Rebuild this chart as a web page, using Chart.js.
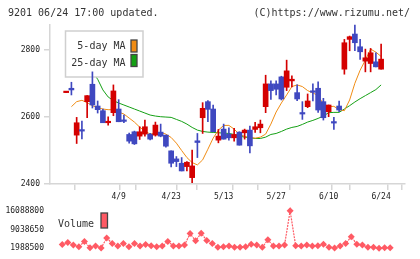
<!DOCTYPE html>
<html>
<head>
<meta charset="utf-8">
<script src="https://cdn.jsdelivr.net/npm/chart.js@4.4.1/dist/chart.umd.min.js"></script>
<style>
  html, body { margin: 0; padding: 0; background: #fff; }
  body { width: 420px; height: 259px; position: relative; overflow: hidden; }
  .head { position: absolute; top: 7px; font: 10px 'DejaVu Sans Mono', monospace; line-height: 12px; color: #333; white-space: pre; }
  canvas { position: absolute; left: 0; }
  #priceChart { top: 0; }
  #volChart { top: 200px; }
</style>
</head>
<body>
<canvas id="priceChart" width="420" height="205"></canvas>
<canvas id="volChart" width="420" height="59"></canvas>
<div class="head" style="left:8px">9201 06/24 17:00 updated.</div>
<div class="head" style="right:10px">(C)https://www.rizumu.net/</div>
<script>
const dates = ['3/26','3/27','3/28','3/29','4/1','4/2','4/3','4/4','4/5','4/8',
  '4/9','4/10','4/11','4/12','4/15','4/16','4/17','4/18','4/19','4/22',
  '4/23','4/24','4/25','4/26','4/30','5/1','5/2','5/7','5/8','5/9',
  '5/13','5/14','5/15','5/16','5/17','5/20','5/21','5/22','5/23','5/24',
  '5/27','5/28','5/29','5/30','5/31','6/3','6/4','6/5','6/6','6/7',
  '6/10','6/11','6/12','6/13','6/14','6/17','6/18','6/19','6/20','6/21','6/24'];

const opens = [2673, 2686, 2546, 2561, 2646, 2698, 2633, 2619, 2583, 2613,
  2624, 2589, 2548, 2556, 2543, 2549, 2549, 2546, 2555, 2546,
  2499, 2475, 2462, 2452, 2419, 2529, 2598, 2646, 2624, 2531,
  2564, 2549, 2538, 2555, 2553, 2561, 2563, 2568, 2631, 2699,
  2699, 2720, 2689, 2708, 2673, 2612, 2631, 2677, 2686, 2646,
  2616, 2585, 2633, 2743, 2832, 2848, 2810, 2767, 2760, 2765, 2743];
const highs = [2675, 2704, 2599, 2588, 2664, 2735, 2648, 2624, 2601, 2696,
  2652, 2606, 2552, 2558, 2571, 2591, 2551, 2585, 2579, 2546,
  2499, 2482, 2479, 2467, 2501, 2551, 2643, 2649, 2636, 2563,
  2579, 2568, 2566, 2556, 2564, 2573, 2584, 2591, 2725, 2708,
  2708, 2722, 2770, 2723, 2696, 2646, 2669, 2699, 2705, 2656,
  2636, 2599, 2648, 2832, 2842, 2875, 2832, 2803, 2805, 2792, 2818];
const lows = [2673, 2666, 2521, 2535, 2598, 2627, 2612, 2583, 2576, 2604,
  2586, 2583, 2522, 2518, 2533, 2543, 2532, 2543, 2541, 2510,
  2451, 2452, 2439, 2439, 2404, 2479, 2551, 2586, 2556, 2523,
  2534, 2531, 2528, 2516, 2534, 2493, 2554, 2553, 2613, 2653,
  2666, 2651, 2679, 2690, 2649, 2593, 2628, 2648, 2614, 2591,
  2601, 2563, 2616, 2728, 2798, 2798, 2772, 2735, 2735, 2750, 2743];
const closes = [2675, 2681, 2583, 2558, 2664, 2636, 2622, 2583, 2585, 2678,
  2586, 2587, 2528, 2520, 2556, 2571, 2534, 2576, 2543, 2513,
  2462, 2467, 2439, 2465, 2454, 2524, 2626, 2623, 2556, 2543,
  2534, 2538, 2548, 2516, 2561, 2514, 2571, 2579, 2699, 2679,
  2683, 2654, 2738, 2713, 2654, 2609, 2648, 2674, 2621, 2598,
  2636, 2582, 2621, 2822, 2840, 2822, 2795, 2777, 2792, 2750, 2773];

const ma5 = [null, 2631, 2646, 2650, 2643, 2634, 2628, 2624, 2622, 2622, 2615,
  2609, 2597, 2585, 2570, 2558, 2549, 2552, 2554, 2549, 2539,
  2522, 2500, 2479, 2464, 2457, 2472, 2504, 2537, 2561, 2575,
  2575, 2564, 2548, 2542, 2539, 2537, 2540, 2549, 2579, 2615,
  2642, 2666, 2691, 2696, 2691, 2679, 2672, 2664, 2639, 2631,
  2632, 2622, 2619, 2651, 2701, 2740, 2770, 2803, 2794, 2781];
const ma25 = [null, 2818, 2806, 2782, 2758, 2734, 2713, 2681, 2660, 2649, 2642,
  2636, 2630, 2624, 2618, 2612, 2606, 2603, 2601, 2600, 2599,
  2593, 2587, 2579, 2569, 2561, 2557, 2555, 2554, 2553, 2552,
  2551, 2548, 2543, 2540, 2538, 2536, 2536, 2540, 2548, 2551,
  2557, 2564, 2569, 2572, 2578, 2585, 2590, 2596, 2603, 2613,
  2614, 2614, 2624, 2634, 2645, 2655, 2664, 2673, 2682, 2696];

const volume = [null, 3400000, 4100000, 3150000, 2550000, 4560000, 2200000, 2800000, 2050000, 5860000, 3750000,
  2800000, 3750000, 2550000, 3750000, 2800000, 3400000, 2900000, 2550000, 2800000, 4560000,
  2800000, 2800000, 3150000, 7490000, 4810000, 7660000, 4910000, 3750000, 2340000, 2550000,
  2800000, 2340000, 2340000, 2550000, 3500000, 3150000, 2340000, 5160000, 2800000, 2800000,
  3150000, 16088800, 2900000, 2800000, 3150000, 2800000, 2900000, 3500000, 2340000, 2050000,
  2800000, 3750000, 6320000, 3500000, 3150000, 2340000, 2340000, 1988500, 2200000, 2200000];

const priceTicks = [2400, 2600, 2800];
const volumeTicks = [1988500, 9038650, 16088800];
const dateTicks = ['4/9', '4/23', '5/13', '5/27', '6/10', '6/24'];

const UP = '#d40000';
const DOWN = '#3f48c0';
const MONO = 'DejaVu Sans Mono';
const AXIS = '#d6d6d6';
const xMin = -1.2, xMax = 62.67;

const labelIdx = dateTicks.map(d => dates.indexOf(d));
const candleColor = opens.map((o, i) => closes[i] >= o ? UP : DOWN);
// tick marks on the time axis are evenly spread, not tied to dates
const markTicks = [];
for (let k = 0; k <= 11; k++) markTicks.push(xMin + k * (xMax - xMin) / 11);

const maLegend = {
  id: 'maLegend',
  afterDatasetDraw(chart, args) {
    if (chart.data.datasets[args.index].label !== '5-day MA') return;
    const ctx = chart.ctx;
    ctx.save();
    ctx.fillStyle = '#fff';
    ctx.fillRect(65.5, 31, 77.5, 46);
    ctx.strokeStyle = '#cfcfcf';
    ctx.lineWidth = 1.5;
    ctx.strokeRect(65.5, 31, 77.5, 46);
    ctx.font = '10px "' + MONO + '"';
    ctx.textAlign = 'right';
    ctx.textBaseline = 'alphabetic';
    const lines = chart.data.datasets.filter(d => d.type === 'line');
    lines.forEach((d, k) => {
      ctx.fillStyle = '#333';
      ctx.fillText(d.label, 125.5, 49 + k * 17);
      ctx.fillStyle = d.borderColor;
      ctx.fillRect(131, 40 + k * 14.5, 6, 12);
      ctx.strokeStyle = '#444';
      ctx.lineWidth = 1.3;
      ctx.strokeRect(131, 40 + k * 14.5, 6, 12);
    });
    ctx.restore();
  }
};

new Chart(document.getElementById('priceChart'), {
  type: 'bar',
  data: {
    datasets: [{
      type: 'line',
      label: '5-day MA',
      data: ma5.map((v, i) => ({x: i, y: v})),
      borderColor: '#f08c14',
      borderWidth: 1,
      pointRadius: 0,
      order: 3
    }, {
      type: 'line',
      label: '25-day MA',
      data: ma25.map((v, i) => ({x: i, y: v})),
      borderColor: '#14a014',
      borderWidth: 1,
      pointRadius: 0,
      order: 4
    }, {
      label: 'wick',
      data: highs.map((h, i) => ({x: i, y: [lows[i], h]})),
      backgroundColor: candleColor,
      barThickness: 1,
      minBarLength: 1,
      grouped: false,
      clip: 6,
      order: 2
    }, {
      label: 'body',
      data: opens.map((o, i) => ({x: i, y: [o, closes[i]]})),
      backgroundColor: candleColor,
      barThickness: 5,
      minBarLength: 1.5,
      grouped: false,
      clip: 6,
      order: 1
    }]
  },
  options: {
    responsive: false,
    animation: false,
    layout: { padding: { left: 0, right: 15, top: 25, bottom: 0 } },
    plugins: { legend: { display: false }, tooltip: { enabled: false } },
    scales: {
      x: {
        type: 'linear',
        min: xMin,
        max: xMax,
        afterBuildTicks: s => {
          s.ticks = markTicks.concat(labelIdx).sort((a, b) => a - b).map(v => ({value: v}));
        },
        afterFit: s => { s.height = 21; },
        grid: {
          drawOnChartArea: false,
          tickLength: 6,
          lineWidth: 1.5,
          color: c => (c.tick && labelIdx.includes(c.tick.value)) ? 'rgba(0,0,0,0)' : AXIS
        },
        border: { color: AXIS, width: 1.5 },
        ticks: {
          autoSkip: false,
          maxRotation: 0,
          padding: 2,
          color: '#222',
          font: { family: MONO, size: 8 },
          callback: v => {
            const k = labelIdx.indexOf(v);
            return k >= 0 ? dateTicks[k] : '';
          }
        }
      },
      y: {
        min: 2400,
        max: 2875,
        afterBuildTicks: s => { s.ticks = priceTicks.map(v => ({value: v})); },
        afterFit: s => { s.width = 50; },
        grid: { drawOnChartArea: false, tickLength: 6, lineWidth: 1.5, color: AXIS },
        border: { color: AXIS, width: 1.5 },
        ticks: { padding: 4, color: '#222', font: { family: MONO, size: 8 }, callback: v => String(v) }
      }
    }
  },
  plugins: [maLegend]
});

const volLegend = {
  id: 'volLegend',
  afterDraw(chart) {
    const ctx = chart.ctx;
    const d = chart.data.datasets[0];
    ctx.save();
    ctx.font = '10px "' + MONO + '"';
    ctx.fillStyle = '#333';
    ctx.textBaseline = 'alphabetic';
    ctx.fillText(d.label, 58, 27);
    ctx.fillStyle = d.backgroundColor;
    ctx.fillRect(101, 13, 6.5, 15);
    ctx.strokeStyle = '#444';
    ctx.lineWidth = 1.3;
    ctx.strokeRect(101, 13, 6.5, 15);
    ctx.restore();
  }
};

new Chart(document.getElementById('volChart'), {
  type: 'line',
  data: {
    datasets: [{
      label: 'Volume',
      data: volume.map((v, i) => ({x: i, y: v})),
      borderColor: '#ff5a64',
      backgroundColor: '#ff5a64',
      borderWidth: 1.2,
      borderDash: [2, 1],
      pointStyle: 'rectRot',
      pointRadius: 3.5,
      pointBorderWidth: 0,
      clip: false
    }]
  },
  options: {
    responsive: false,
    animation: false,
    layout: { padding: { left: 0, right: 15, top: 8.3, bottom: 10.7 } },
    plugins: { legend: { display: false }, tooltip: { enabled: false } },
    scales: {
      x: { type: 'linear', min: xMin, max: xMax, display: false },
      y: {
        min: 1988500,
        max: 16088800,
        afterBuildTicks: s => { s.ticks = volumeTicks.map(v => ({value: v})); },
        afterFit: s => { s.width = 50; },
        grid: { display: false, drawTicks: false },
        border: { display: false },
        ticks: { padding: 6, color: '#222', font: { family: MONO, size: 8 }, callback: v => String(v) }
      }
    }
  },
  plugins: [volLegend]
});
</script>
</body>
</html>
